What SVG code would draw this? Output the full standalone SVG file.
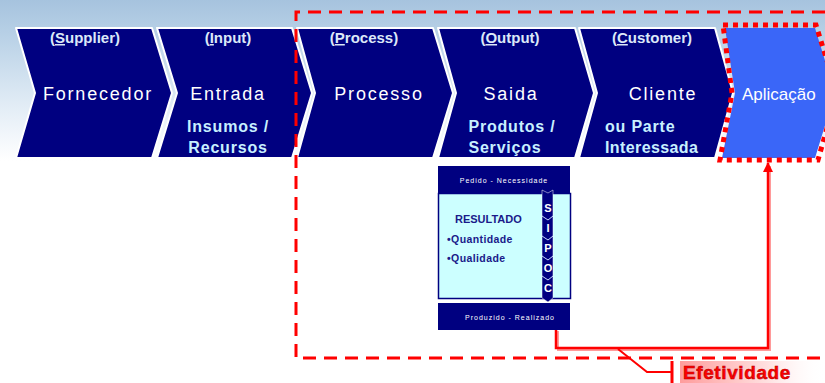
<svg xmlns="http://www.w3.org/2000/svg" width="825" height="383" viewBox="0 0 825 383">
<defs>
<linearGradient id="bg" x1="0" y1="0" x2="0" y2="1">
<stop offset="0" stop-color="#a6c3de"/>
<stop offset="0.1" stop-color="#bad2e7"/>
<stop offset="0.28" stop-color="#e3edf6"/>
<stop offset="0.42" stop-color="#ffffff"/>
<stop offset="1" stop-color="#ffffff"/>
</linearGradient>
<linearGradient id="pink" x1="0" y1="0" x2="1" y2="0">
<stop offset="0" stop-color="#ff9c9c"/>
<stop offset="0.6" stop-color="#ffe0e0"/>
<stop offset="1" stop-color="#ffffff" stop-opacity="0"/>
</linearGradient>
<marker id="arr" viewBox="0 0 10 10" refX="9" refY="5" markerWidth="4" markerHeight="4" orient="auto" markerUnits="strokeWidth">
<path d="M0,0 L10,5 L0,10 z" fill="#ff0000"/>
</marker>
<style>
.chev{fill:#000080;stroke:#ffffff;stroke-width:2;stroke-linejoin:round}
.en{font-family:"Liberation Sans",Arial,sans-serif;font-weight:bold;font-size:15px;fill:#dce8f8;text-anchor:middle}
.pt{font-family:"Liberation Sans",Arial,sans-serif;font-size:18px;fill:#ffffff;letter-spacing:1.8px;text-anchor:middle}
.sub{font-family:"Liberation Sans",Arial,sans-serif;font-weight:bold;font-size:16px;fill:#c8f0ff;letter-spacing:0.8px;text-anchor:middle}
.body{font-family:"Liberation Sans",Arial,sans-serif;font-weight:bold;fill:#1a1a8a}
.tiny{font-family:"Liberation Sans",Arial,sans-serif;font-size:7px;fill:#ffffff;letter-spacing:1px;text-anchor:middle}
.sipoc{font-family:"Liberation Sans",Arial,sans-serif;font-weight:bold;font-size:11px;fill:#ffffff;text-anchor:middle}
.red{fill:none;stroke:#ff0000}
</style>
</defs>
<rect x="0" y="0" width="825" height="383" fill="url(#bg)"/>

<g id="supplier">
<polygon class="chev" points="16,28 152,28 172,93 152,158 16,158 35,93"/>
<text class="en" x="85" y="43"><tspan>(</tspan><tspan text-decoration="underline">S</tspan><tspan>upplier)</tspan></text>
<text class="pt" x="98" y="100">Fornecedor</text>
</g>
<g id="input">
<polygon class="chev" points="157,28 292,28 312,93 292,158 157,158 177,93"/>
<text class="en" x="228" y="43"><tspan>(</tspan><tspan text-decoration="underline">I</tspan><tspan>nput)</tspan></text>
<text class="pt" x="228" y="100">Entrada</text>
<text class="sub" x="228" y="132">Insumos /</text>
<text class="sub" x="228" y="153">Recursos</text>
</g>
<g id="process">
<polygon class="chev" points="297,28 433,28 453,93 433,158 297,158 315,93"/>
<text class="en" x="364" y="43"><tspan>(</tspan><tspan text-decoration="underline">P</tspan><tspan>rocess)</tspan></text>
<text class="pt" x="379" y="100">Processo</text>
</g>
<g id="output">
<polygon class="chev" points="438,28 575,28 594,93 575,158 438,158 456,93"/>
<text class="en" x="510" y="43"><tspan>(</tspan><tspan text-decoration="underline">O</tspan><tspan>utput)</tspan></text>
<text class="pt" x="511" y="100">Saida</text>
<text class="sub" x="512" y="132">Produtos /</text>
<text class="sub" x="505" y="153">Serviços</text>
</g>
<g id="customer">
<polygon class="chev" points="579,28 715,28 733,93 715,158 579,158 597,93"/>
<text class="en" x="652" y="43"><tspan>(</tspan><tspan text-decoration="underline">C</tspan><tspan>ustomer)</tspan></text>
<text class="pt" x="663" y="100">Cliente</text>
<text class="sub" x="605" y="132" style="text-anchor:start">ou Parte</text>
<text class="sub" x="605" y="153" style="text-anchor:start;letter-spacing:0.4px">Interessada</text>
</g>
<g id="aplicacao">
<polygon points="725,28 815,28 835,93 815,158 722,158 735,93" fill="#3a66f8"/>
<polygon points="723,25 816,25 837,93 818,160 720,160 732,93" fill="none" stroke="#ff0000" stroke-width="5" stroke-dasharray="5 5"/>
<text x="742" y="100" font-family="Liberation Sans, Arial, sans-serif" font-size="17" fill="#ffffff">Aplicação</text>
</g>

<g id="resultado">
<rect x="438" y="166" width="132" height="27" fill="#000080"/>
<text class="tiny" x="504" y="183">Pedido - Necessidade</text>
<rect x="438.5" y="193.5" width="132" height="105" fill="#ccffff" stroke="#000080" stroke-width="1.5"/>
<text class="body" x="455" y="223" font-size="11">RESULTADO</text>
<text class="body" x="447" y="243" font-size="10.5" letter-spacing="0.4">•Quantidade</text>
<text class="body" x="447" y="262" font-size="10.5" letter-spacing="0.4">•Qualidade</text>
<rect x="438" y="303" width="132" height="27" fill="#000080"/>
<text class="tiny" x="510" y="320">Produzido - Realizado</text>
<g id="sipoc">
<path d="M542,190 L548,193 L553,190 L553,298 L548,302 L542,298 Z" fill="#000080" stroke="#ffffff" stroke-width="0.5"/>
<path d="M542,216 L548,220 L553,216 M542,236 L548,240 L553,236 M542,256 L548,260 L553,256 M542,276 L548,280 L553,276" fill="none" stroke="#c8d8ff" stroke-width="1"/>
<text class="sipoc" x="548" y="212">S</text>
<text class="sipoc" x="548" y="232">I</text>
<text class="sipoc" x="548" y="252">P</text>
<text class="sipoc" x="548" y="272">O</text>
<text class="sipoc" x="548" y="292">C</text>
</g>
</g>

<g id="scope">
<path class="red" d="M825,12 H296 V358 H825" stroke-width="3" stroke-dasharray="13 8"/>
</g>

<g id="connectors">
<path d="M558,331 V350 H770 V166" fill="none" stroke="#ff9a9a" stroke-width="2"/>
<path class="red" d="M556,330 V348 H768 V163" stroke-width="2.5" marker-end="url(#arr)"/>
<path class="red" d="M618,349 L647,372 H672" stroke-width="2"/>
<line x1="672" y1="361" x2="672" y2="383" stroke="#ff0000" stroke-width="3"/>
</g>

<g id="efetividade">
<rect x="680" y="361" width="145" height="22" fill="url(#pink)"/>
<text x="683" y="379" font-family="Liberation Sans, Arial, sans-serif" font-weight="bold" font-size="19" fill="#ff0000" stroke="#b00000" stroke-width="0.5" letter-spacing="0.6">Efetividade</text>
</g>
</svg>
